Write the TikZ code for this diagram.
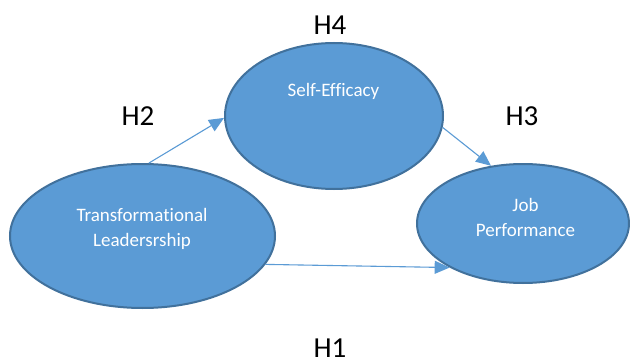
\documentclass[tikz,border=0pt]{standalone}
\usepackage{fontspec}
\setmainfont{Carlito}[Ligatures=NoCommon]
\usetikzlibrary{arrows.meta,shapes.geometric}
\definecolor{ofill}{HTML}{5B9BD5}
\definecolor{oline}{HTML}{41719C}
\begin{document}
\begin{tikzpicture}[x=1pt,y=-1pt,
  ell/.style={ellipse, draw=oline, line width=2pt, fill=ofill, inner sep=0pt},
  intext/.style={text=white, align=center, font=\fontsize{19}{25}\selectfont, inner sep=0pt},
  hlabel/.style={font=\fontsize{29}{34}\selectfont, anchor=base, inner sep=0pt},
  link/.style={draw=ofill, line width=1.1pt, -{Triangle[length=15pt,width=13pt]}}
]
\useasboundingbox[fill=white] (0,0) rectangle (630,361);
\node[ell, minimum width=265pt, minimum height=144pt] (tl) at (142.5,236) {};
\node[ell, minimum width=218pt, minimum height=146pt] (se) at (334,116) {};
\node[ell, minimum width=212pt, minimum height=119pt] (jp) at (523,223.5) {};
\node[intext] (tlt) at (142,229) {Transformational\\Leadersrship};
\node[intext] (set) at (333.5,91.6) {Self-Efficacy};
\node[intext] (jpt) at (525.5,217.4) {Job\\Performance};
\node[hlabel] (h4) at (330,35) {H4};
\node[hlabel] (h2) at (138,125) {H2};
\node[hlabel] (h3) at (522,125) {H3};
\node[hlabel] (h1) at (330,357) {H1};
\draw[link] (tl.85) -- (se.181);
\draw[link] (se.-6) -- (jp.119);
\draw[link] (tl.-13) -- (jp.211);
\end{tikzpicture}
\end{document}
